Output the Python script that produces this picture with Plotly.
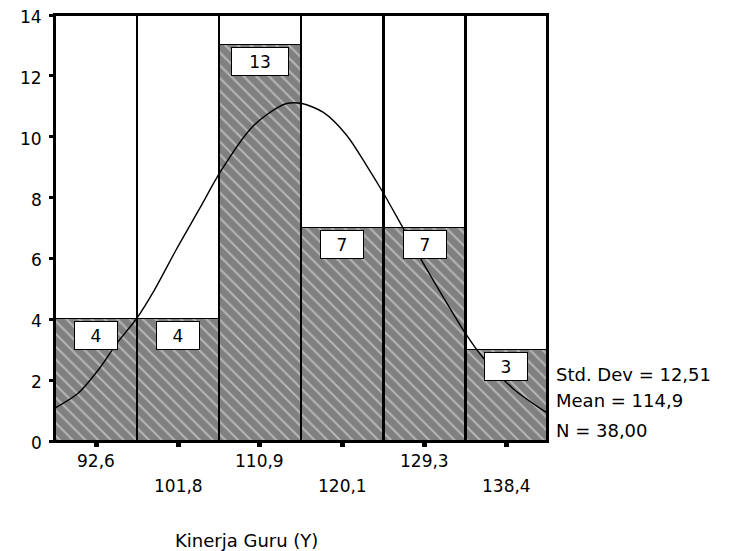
import plotly.graph_objects as go

# ---- data ----
bin_centers = [92.6, 101.8, 110.9, 120.1, 129.3, 138.4]
tick_labels = ["92,6", "101,8", "110,9", "120,1", "129,3", "138,4"]
counts = [4, 4, 13, 7, 7, 3]
y_ticks = [0, 2, 4, 6, 8, 10, 12, 14]
y_max = 14

# normal curve
curve_x = [88.0, 90.6, 93.0, 94.9, 97.2, 99.2, 101.6, 104.2, 106.5, 109.8,
           111.7, 113.9, 115.6, 118.0, 120.6, 122.9, 124.7, 126.9, 129.0,
           133.8, 135.8, 139.2, 143.0]
curve_y = [1.08, 1.57, 2.39, 3.20, 4.05, 5.00, 6.31, 7.65, 8.85, 10.24,
           10.73, 11.09, 11.09, 10.80, 10.05, 9.02, 8.15, 7.00, 5.92,
           3.57, 2.75, 1.72, 0.92]

stats_lines = ["Std. Dev = 12,51", "Mean = 114,9", "N = 38,00"]
stats_y = [2.2, 1.33, 0.35]
x_title = "Kinerja Guru (Y)"

FONT = "DejaVu Sans"
PAGE_OFFSET = 8  # default body margin of the html page

bin_width = (bin_centers[-1] - bin_centers[0]) / (len(bin_centers) - 1)
x_range = [bin_centers[0] - bin_width / 2, bin_centers[-1] + bin_width / 2]

fig = go.Figure()

# hatched count bars
fig.add_trace(go.Bar(
    x=bin_centers, y=counts, width=bin_width,
    marker=dict(
        color="#808080",
        pattern=dict(shape="\\", fgcolor="#ededed", bgcolor="#808080",
                     size=9, solidity=0.22),
        line=dict(color="black", width=1),
    ),
    hoverinfo="skip", showlegend=False,
))

# full-height column frames
fig.add_trace(go.Bar(
    x=bin_centers, y=[y_max] * len(bin_centers), width=bin_width,
    marker=dict(color="rgba(0,0,0,0)", line=dict(color="black", width=2)),
    hoverinfo="skip", showlegend=False,
))

# normal curve
fig.add_trace(go.Scatter(
    x=curve_x, y=curve_y, mode="lines",
    line=dict(color="black", width=1.4, shape="spline", smoothing=0.8),
    hoverinfo="skip", showlegend=False, cliponaxis=True,
))

annotations = []
# count labels in boxes
for xc, c in zip(bin_centers, counts):
    annotations.append(dict(
        x=xc, y=c, xref="x", yref="y", text=str(c), showarrow=False,
        yanchor="top", yshift=-2,
        font=dict(family=FONT, size=17, color="black"),
        bgcolor="white", bordercolor="black", borderwidth=1, borderpad=2,
        width=38 if len(str(c)) == 1 else 52, height=23,
    ))

# y tick labels
for v in y_ticks:
    annotations.append(dict(
        x=0, y=v, xref="paper", yref="y", text=str(v), showarrow=False,
        xanchor="right", yanchor="middle", xshift=-11, yshift=-2,
        font=dict(family=FONT, size=17, color="black"),
    ))

# x tick labels, staggered on two rows
for i, (xc, lab) in enumerate(zip(bin_centers, tick_labels)):
    annotations.append(dict(
        x=xc, y=0, xref="x", yref="paper", text=lab, showarrow=False,
        yanchor="middle", yshift=-20 if i % 2 == 0 else -45,
        font=dict(family=FONT, size=17, color="black"),
    ))

# statistics
for txt, yy in zip(stats_lines, stats_y):
    annotations.append(dict(
        x=1, y=yy, xref="paper", yref="y", text=txt, showarrow=False,
        xanchor="left", yanchor="middle", xshift=7,
        font=dict(family=FONT, size=18, color="black"),
    ))

# axis title
annotations.append(dict(
    x=0.39, y=0, xref="paper", yref="paper", text=x_title, showarrow=False,
    xanchor="center", yanchor="middle", yshift=-99,
    font=dict(family=FONT, size=18, color="black"),
))

fig.update_layout(
    width=755 - PAGE_OFFSET, height=551 - PAGE_OFFSET,
    margin=dict(l=55 - PAGE_OFFSET, r=208, t=13 - PAGE_OFFSET, b=110),
    paper_bgcolor="white", plot_bgcolor="white",
    barmode="overlay", bargap=0,
    showlegend=False,
    annotations=annotations,
    font=dict(family=FONT, color="black"),
)

fig.update_xaxes(
    range=x_range, tickvals=bin_centers, showticklabels=False,
    ticks="outside", ticklen=4, tickwidth=5, tickcolor="black",
    showline=True, linecolor="black", linewidth=2, mirror=True,
    showgrid=False, zeroline=False, fixedrange=True,
)
fig.update_yaxes(
    range=[0, y_max], tickvals=y_ticks, showticklabels=False,
    ticks="outside", ticklen=4, tickwidth=3, tickcolor="black",
    showline=True, linecolor="black", linewidth=2, mirror=True,
    showgrid=False, zeroline=False, fixedrange=True,
)

fig.write_html("out.html")
